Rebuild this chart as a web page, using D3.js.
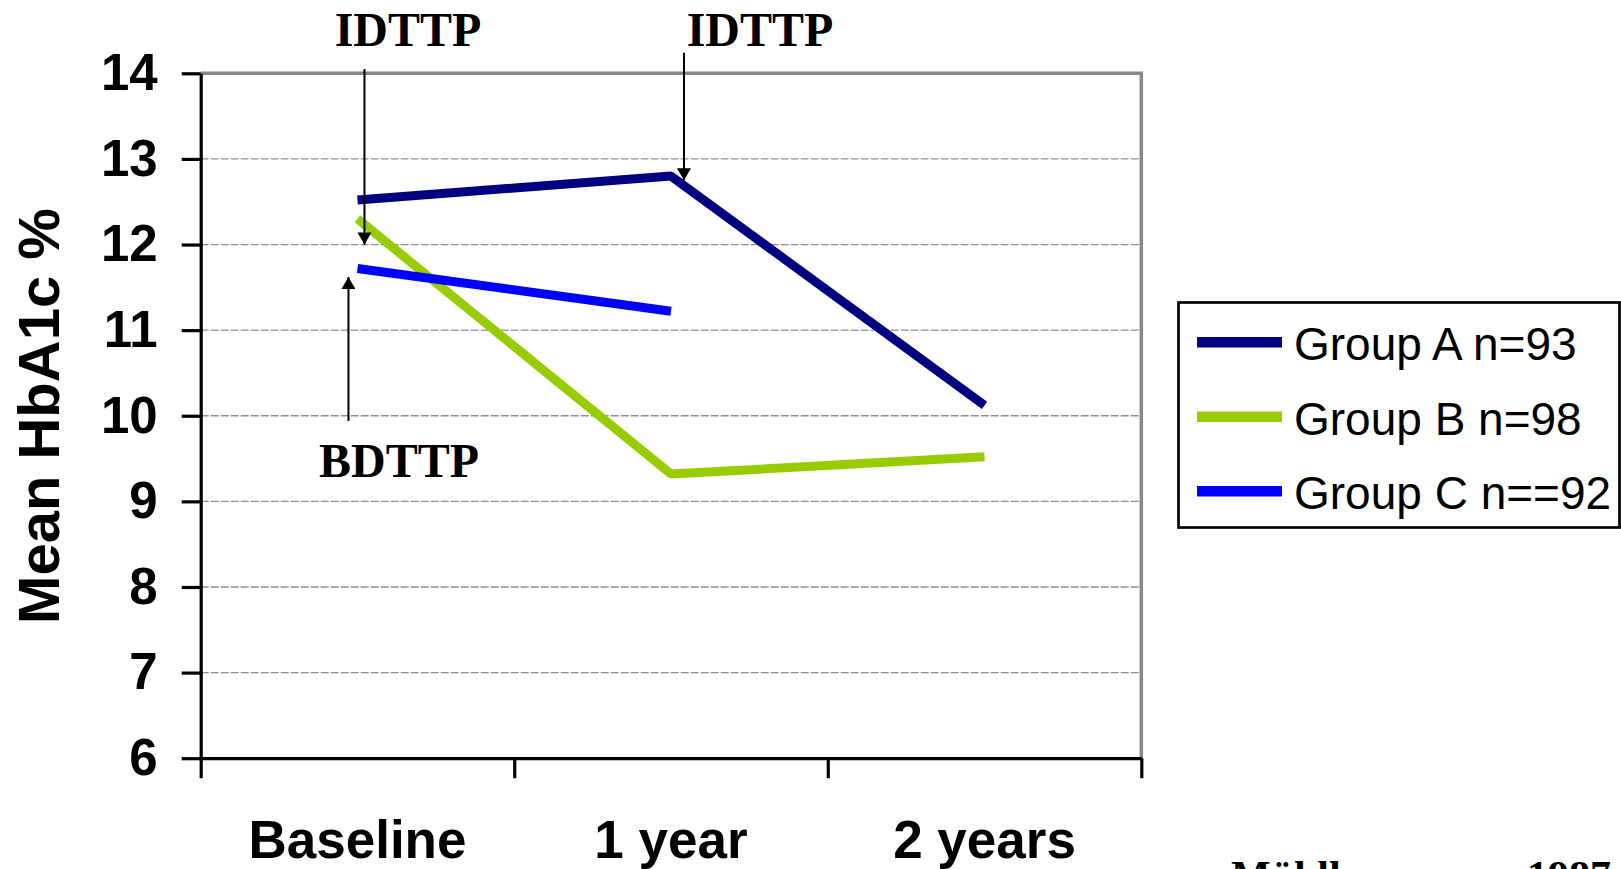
<!DOCTYPE html>
<html>
<head>
<meta charset="utf-8">
<script src="https://cdn.jsdelivr.net/npm/d3@7"></script>
<style>
  body { margin: 0; background: #fff; }
  svg { display: block; }
</style>
</head>
<body>
<svg id="chart" width="1621" height="869"></svg>
<script>
// data
const categories = ['Baseline', '1 year', '2 years'];
const groupA = [12.52, 12.8, 10.12];
const groupB = [12.3, 9.32, 9.52];
const groupC = [11.72, 11.22, null];
const seriesNames = ['Group A n=93', 'Group B n=98', 'Group C n==92'];
const seriesColors = ['#000080', '#99cc00', '#0000ff'];
const yTicks = [6, 7, 8, 9, 10, 11, 12, 13, 14];

// arrows: category, value at tail, value at tip, label
const notes = [
  { cat: 'Baseline', from: 14.05, to: 12.0, label: 'IDTTP', dx: 7 },
  { cat: '1 year', from: 14.24, to: 12.75, label: 'IDTTP', dx: 13 },
  { cat: 'Baseline', from: 9.94, to: 11.62, label: 'BDTTP', dx: -9 }
];

const svg = d3.select('#chart');
const margin = { top: 73.3, right: 480, bottom: 111, left: 200.7 };
const W = +svg.attr('width'), H = +svg.attr('height');
const x0 = margin.left, x1 = W - margin.right + 0.3;
const yTop = margin.top, yBot = H - margin.bottom + 0.2;

const x = d3.scaleBand().domain(categories).range([x0, x1]).padding(0);
const xEdge = d3.scaleLinear().domain([0, categories.length]).range([x0, x1]);
const y = d3.scaleLinear().domain([6, 14]).range([yBot, yTop]);
const cx = c => x(c) + x.bandwidth() / 2;

const sans = '"Liberation Sans", Arial, sans-serif';
const serif = '"Liberation Serif", "Times New Roman", serif';

// gridlines
svg.append('g')
  .selectAll('line')
  .data(yTicks.filter(v => v > 6 && v < 14))
  .join('line')
    .attr('x1', x0).attr('x2', x1)
    .attr('y1', d => y(d)).attr('y2', d => y(d))
    .attr('stroke', '#8f8f8f')
    .attr('stroke-width', 1.3)
    .attr('stroke-dasharray', '8,2');

// plot border top/right
svg.append('path')
  .attr('d', `M${x0},${y(14)}H${x1}V${yBot}`)
  .attr('fill', 'none')
  .attr('stroke', '#888')
  .attr('stroke-width', 3.5);

// lines
const line = d3.line()
  .defined(d => d.v != null)
  .x(d => cx(d.c))
  .y(d => y(d.v));

[groupA, groupB, groupC].forEach((vals, i) => {
  svg.append('path')
    .datum(categories.map((c, j) => ({ c, v: vals[j] })))
    .attr('d', line)
    .attr('fill', 'none')
    .attr('stroke', seriesColors[i])
    .attr('stroke-width', 9)
    .attr('stroke-linejoin', 'bevel');
});

// axes
const yAxis = svg.append('g')
  .attr('transform', `translate(${x0},0)`)
  .call(d3.axisLeft(y).tickValues(yTicks).tickSize(19).tickSizeOuter(0).tickPadding(24));
yAxis.selectAll('text')
  .attr('font-family', sans).attr('font-weight', 'bold').attr('font-size', 51).attr('fill', '#000');

const xAxis = svg.append('g')
  .attr('transform', `translate(0,${yBot})`)
  .call(d3.axisBottom(xEdge).tickValues(d3.range(categories.length + 1)).tickFormat('').tickSize(20).tickSizeOuter(0));

[yAxis, xAxis].forEach(g => {
  g.select('.domain').attr('stroke', '#000').attr('stroke-width', 3.2);
  g.selectAll('.tick line').attr('stroke', '#000').attr('stroke-width', 3.2);
});

svg.append('g')
  .selectAll('text')
  .data(categories)
  .join('text')
    .attr('x', d => cx(d))
    .attr('y', 858)
    .attr('text-anchor', 'middle')
    .attr('font-family', sans).attr('font-weight', 'bold').attr('font-size', 53)
    .text(d => d);

// y title
svg.append('text')
  .attr('transform', `translate(59,416) rotate(-90)`)
  .attr('text-anchor', 'middle')
  .attr('font-family', sans).attr('font-weight', 'bold').attr('font-size', 58)
  .text('Mean HbA1c %');

// annotation arrows
svg.append('defs').append('marker')
  .attr('id', 'head')
  .attr('viewBox', '0 0 12 14')
  .attr('refX', 12).attr('refY', 7)
  .attr('markerWidth', 15).attr('markerHeight', 14)
  .attr('markerUnits', 'userSpaceOnUse')
  .attr('orient', 'auto')
  .append('path').attr('d', 'M0,0L12,7L0,14Z').attr('fill', '#000');

notes.forEach(n => {
  const ax = cx(n.cat) + n.dx;
  svg.append('line')
    .attr('x1', ax).attr('x2', ax)
    .attr('y1', y(n.from)).attr('y2', y(n.to))
    .attr('stroke', '#000').attr('stroke-width', 2)
    .attr('marker-end', 'url(#head)');
});

const labelPos = [
  { x: 408, y: 46 },
  { x: 760, y: 46 },
  { x: 399, y: 477 }
];
notes.forEach((n, i) => {
  svg.append('text')
    .attr('x', labelPos[i].x).attr('y', labelPos[i].y)
    .attr('text-anchor', 'middle')
    .attr('font-family', serif).attr('font-weight', 'bold').attr('font-size', 48)
    .text(n.label);
});

// legend
const leg = svg.append('g');
leg.append('rect')
  .attr('x', 1178.5).attr('y', 302.5).attr('width', 441).attr('height', 225)
  .attr('fill', '#fff').attr('stroke', '#000').attr('stroke-width', 2.7);
seriesNames.forEach((s, i) => {
  const ly = 342.3 + i * 74.5;
  leg.append('line')
    .attr('x1', 1197).attr('x2', 1282)
    .attr('y1', ly).attr('y2', ly)
    .attr('stroke', seriesColors[i]).attr('stroke-width', 10.5);
  leg.append('text')
    .attr('x', 1294).attr('y', ly + 18)
    .attr('font-family', sans).attr('font-size', 46)
    .text(s);
});

// source note, cut off at the bottom edge
const src = svg.append('text')
  .attr('y', 890)
  .attr('font-family', serif).attr('font-weight', 'bold').attr('font-size', 42);
src.append('tspan').attr('x', 1231).text('Mühlhauser');
src.append('tspan').attr('x', 1527).text('1987');
</script>
</body>
</html>
